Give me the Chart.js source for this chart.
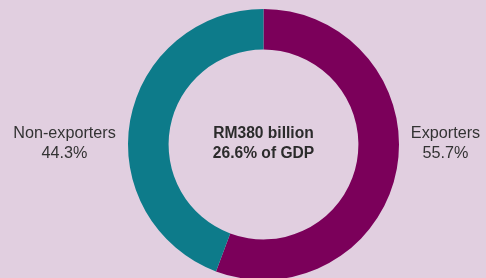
<!DOCTYPE html>
<html>
<head>
<meta charset="utf-8">
<script src="https://cdn.jsdelivr.net/npm/chart.js@4"></script>
<style>
  html, body { margin: 0; padding: 0; background: #e1cfe0; }
  #wrap { width: 486px; height: 278px; }
</style>
</head>
<body>
<div id="wrap"><canvas id="mycanvas"></canvas></div>
<script>
var categories = ['Exporters', 'Non-exporters'];
var shares = [55.7, 44.3];
var colours = ['#7b005a', '#0d7b8a'];
var centreLines = ['RM380 billion', '26.6% of GDP'];

// labels beside the ring + text in the hole
var labelPlugin = {
    id: 'ringLabels',
    afterDraw: function(chart) {
        var ctx = chart.ctx;
        var arc = chart.getDatasetMeta(0).data[0];
        var cx = arc.x, cy = arc.y;
        ctx.save();
        ctx.textAlign = 'center';
        ctx.textBaseline = 'middle';
        ctx.fillStyle = '#2b2b2b';
        ctx.font = 'bold 15.6px "Liberation Sans", Arial, sans-serif';
        ctx.fillText(centreLines[0], cx, cy - 11);
        ctx.fillText(centreLines[1], cx, cy + 9);

        ctx.fillStyle = '#333333';
        ctx.font = '16.2px "Liberation Sans", Arial, sans-serif';
        ctx.fillText(categories[0], cx + 182, cy - 11);
        ctx.fillText(shares[0].toFixed(1) + '%', cx + 182, cy + 9);
        ctx.fillText(categories[1], cx - 199, cy - 11);
        ctx.fillText(shares[1].toFixed(1) + '%', cx - 199, cy + 9);
        ctx.restore();
    }
};

var ctx = document.getElementById('mycanvas');
var chart = new Chart(ctx, {
    type: 'doughnut',
    data: {
        labels: categories,
        datasets: [{
            data: shares,
            backgroundColor: colours,
            borderWidth: 0,
            radius: 135.5,
            cutout: 93.5
        }]
    },
    options: {
        responsive: true,
        maintainAspectRatio: false,
        animation: false,
        layout: { padding: { left: 41, top: 11, right: 0, bottom: 0 } },
        plugins: {
            legend: { display: false },
            tooltip: { enabled: false }
        }
    },
    plugins: [labelPlugin]
});
</script>
</body>
</html>
